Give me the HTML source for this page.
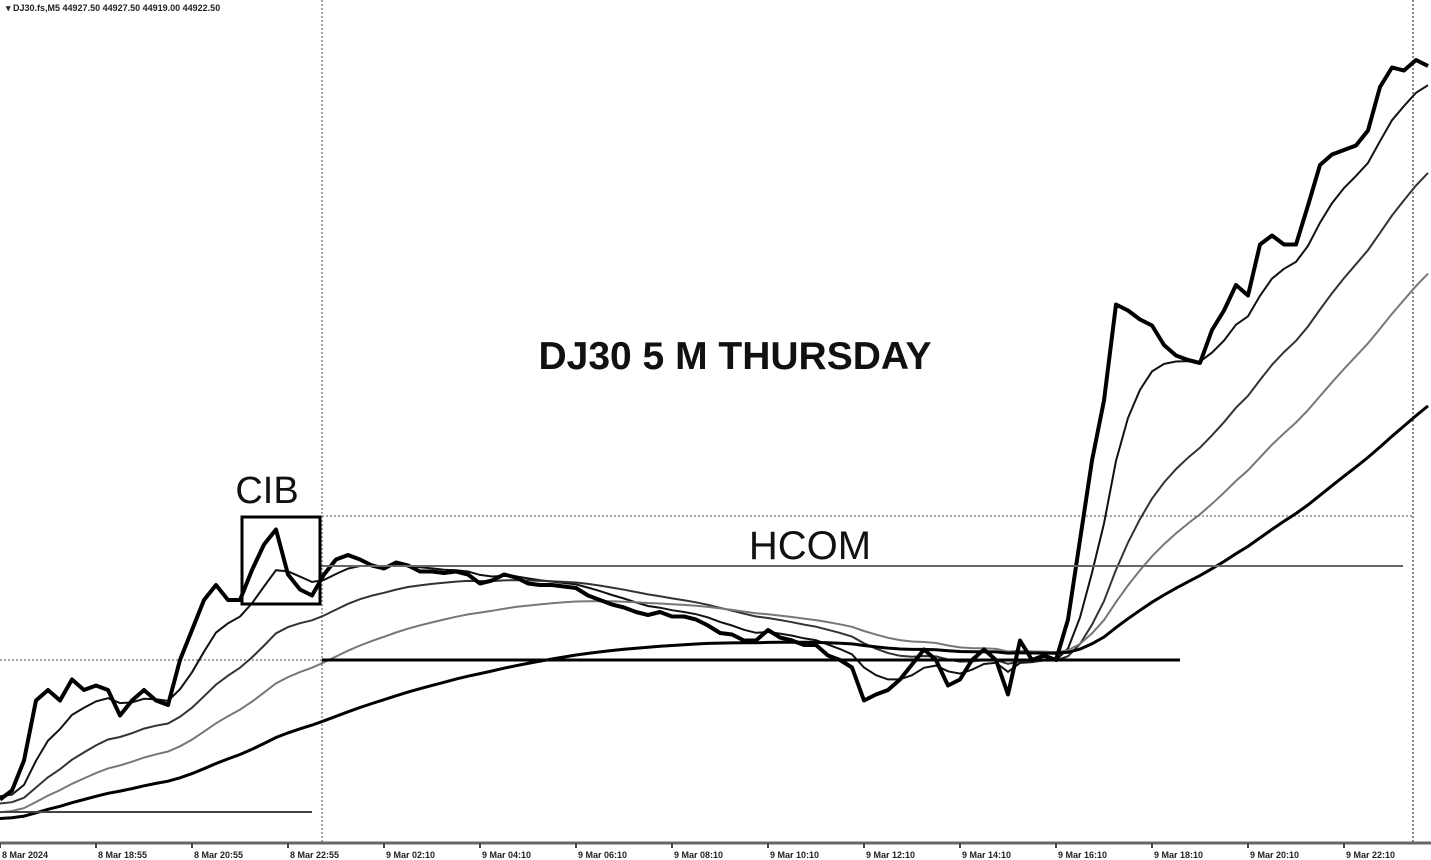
<!DOCTYPE html>
<html><head><meta charset="utf-8"><style>
html,body{margin:0;padding:0;background:#fff;}
svg{display:block;}
text{font-family:"Liberation Sans",sans-serif;}
</style></head><body>
<svg id="chart" width="1431" height="860" viewBox="0 0 1431 860" xmlns="http://www.w3.org/2000/svg">
<rect x="0" y="0" width="1431" height="860" fill="#fff"/>
<text x="6" y="11" font-size="9" font-weight="bold" fill="#222">▾ DJ30.fs,M5  44927.50 44927.50 44919.00 44922.50</text>
<g id="grid"></g>
<g id="mas"></g>
<g id="price"></g>
<g id="annot">
<line x1="0" y1="812" x2="312" y2="812" stroke="#444" stroke-width="2"/>
<line x1="320" y1="566" x2="1403" y2="566" stroke="#666" stroke-width="2"/>
<line x1="322" y1="660" x2="1180" y2="660" stroke="#000" stroke-width="3"/>
<rect x="242" y="517" width="78" height="87" fill="none" stroke="#000" stroke-width="3"/>
<text x="267" y="503" font-size="38" text-anchor="middle" fill="#111">CIB</text>
<text x="810" y="559" font-size="40" text-anchor="middle" fill="#111">HCOM</text>
<text x="735" y="369" font-size="39" font-weight="bold" text-anchor="middle" fill="#111">DJ30 5 M THURSDAY</text>
</g>
<g id="xaxis"></g>
</svg>
<script>
const NS="http://www.w3.org/2000/svg";
const xLabels=["8 Mar 2024","8 Mar 18:55","8 Mar 20:55","8 Mar 22:55","9 Mar 02:10","9 Mar 04:10","9 Mar 06:10","9 Mar 08:10","9 Mar 10:10","9 Mar 12:10","9 Mar 14:10","9 Mar 16:10","9 Mar 18:10","9 Mar 20:10","9 Mar 22:10"];
const closes=[44429,44435,44455,44495,44502,44495,44509,44502,44505,44502,44485,44495,44502,44495,44492,44522,44542,44562,44572,44562,44562,44582,44599,44609,44579,44569,44565,44579,44589,44592,44589,44585,44583,44587,44585,44581,44581,44580,44581,44579,44573,44575,44579,44577,44573,44572,44572,44571,44570,44565,44562,44559,44557,44554,44552,44554,44551,44551,44549,44545,44540,44539,44535,44535,44542,44537,44535,44532,44532,44525,44522,44517,44495,44499,44502,44509,44519,44529,44522,44505,44509,44522,44529,44522,44499,44535,44522,44525,44522,44549,44602,44655,44695,44759,44755,44749,44745,44732,44725,44722,44720,44742,44755,44772,44765,44799,44805,44799,44799,44825,44852,44859,44862,44865,44875,44904,44917,44915,44922,44918];
const periods=[6,18,34,70];
const seeds=[44432,44426,44420,44416];
const maColors=["#111","#333","#777","#000"];
const maWidths=[2,2,2,3];
const step=12, x0=0;
const yMin=44400,yMax=44962;
function xs(i){return x0+i*step;}
function ys(p){return 843-(p-yMin)/(yMax-yMin)*843;}
const grid=document.getElementById('grid');
function ln(g,x1,y1,x2,y2,st,w,dash,name){const l=document.createElementNS(NS,'line');l.setAttribute('x1',x1);l.setAttribute('y1',y1);l.setAttribute('x2',x2);l.setAttribute('y2',y2);l.setAttribute('stroke',st);l.setAttribute('stroke-width',w);if(dash)l.setAttribute('stroke-dasharray',dash);


g.appendChild(l);return l;}
ln(grid,322,0,322,843,"#888",1.5,"2,2","session-divider");
ln(grid,1413,0,1413,843,"#888",2,"2,2","current-time-line");
ln(grid,0,660,322,660,"#888",1.5,"2,2","level-dotted-left");
ln(grid,322,516,1413,516,"#888",1.5,"2,2","level-dotted-right");
const mas=document.getElementById('mas');
periods.forEach((p,k)=>{let e=seeds[k];const a=2/(p+1);let d="";closes.forEach((c,i)=>{e=e+a*(c-e);d+=(i?"L":"M")+xs(i).toFixed(1)+","+ys(e).toFixed(1);});
const path=document.createElementNS(NS,'path');path.setAttribute('d',d);path.setAttribute('fill','none');path.setAttribute('stroke',maColors[k]);path.setAttribute('stroke-width',maWidths[k]);


mas.appendChild(path);});
const pg=document.getElementById('price');
let d="";closes.forEach((c,i)=>{d+=(i?"L":"M")+xs(i)+","+ys(c).toFixed(1);});
const pp=document.createElementNS(NS,'path');pp.setAttribute('d',d);pp.setAttribute('fill','none');pp.setAttribute('stroke','#000');pp.setAttribute('stroke-width','4');pp.setAttribute('stroke-linejoin','round');


pg.appendChild(pp);
const xa=document.getElementById('xaxis');
ln(xa,0,843,1431,843,"#666",3,null,"x-axis-line");
xLabels.forEach((t,i)=>{const x=i*96;ln(xa,x,843,x,848,"#444",2,null,"x-tick");
const tx=document.createElementNS(NS,'text');tx.setAttribute('x',x+2);tx.setAttribute('y',858);tx.setAttribute('font-size','9');tx.setAttribute('font-weight','bold');tx.setAttribute('fill','#222');tx.textContent=t;


xa.appendChild(tx);});
</script>
</body></html>
